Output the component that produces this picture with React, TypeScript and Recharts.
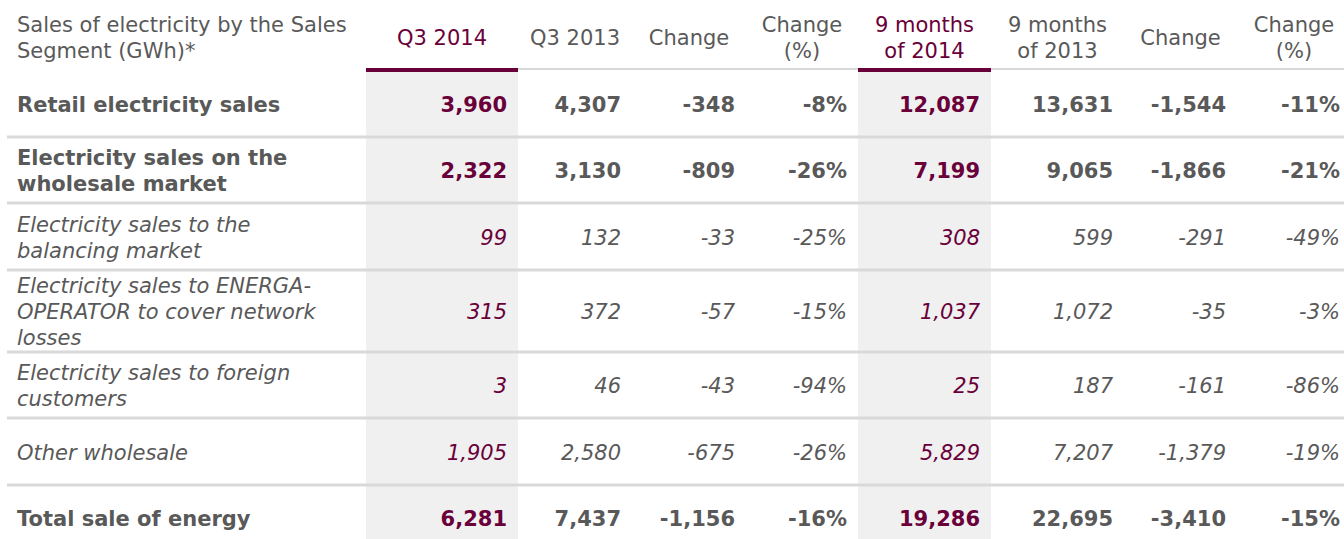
import { Surface, Layer, Rectangle, Text } from 'recharts';

// table content
const titleLines = ['Sales of electricity by the Sales', 'Segment (GWh)*'];
const columnHeaders = ['Q3 2014', 'Q3 2013', 'Change', 'Change\n(%)', '9 months\nof 2014', '9 months\nof 2013', 'Change', 'Change\n(%)'];
const highlighted = [true, false, false, false, true, false, false, false];
const percentCols = [false, false, false, true, false, false, false, true];

const rowLabels = [
  'Retail electricity sales',
  'Electricity sales on the\nwholesale market',
  'Electricity sales to the\nbalancing market',
  'Electricity sales to ENERGA-\nOPERATOR to cover network\nlosses',
  'Electricity sales to foreign\ncustomers',
  'Other wholesale',
  'Total sale of energy',
];
const rowBold = [true, true, false, false, false, false, true];

const q3_2014 = [3960, 2322, 99, 315, 3, 1905, 6281];
const q3_2013 = [4307, 3130, 132, 372, 46, 2580, 7437];
const changeQ3 = [-348, -809, -33, -57, -43, -675, -1156];
const changeQ3Pct = [-8, -26, -25, -15, -94, -26, -16];
const m9_2014 = [12087, 7199, 308, 1037, 25, 5829, 19286];
const m9_2013 = [13631, 9065, 599, 1072, 187, 7207, 22695];
const change9m = [-1544, -1866, -291, -35, -161, -1379, -3410];
const change9mPct = [-11, -21, -49, -3, -86, -19, -15];

const columns = [q3_2014, q3_2013, changeQ3, changeQ3Pct, m9_2014, m9_2013, change9m, change9mPct];

const WIDTH = 1344;
const HEIGHT = 539;
const FONT = '"DejaVu Sans", Verdana, sans-serif';
const GRAY = '#595959';
const MAROON = '#6a0039';
const FILL = '#f0f0f0';
const RULE = '#d9d9d9';
const LINE_H = 26;
const HEADER_H = 70;
const colEdges = [366, 518, 632, 746, 858, 991, 1124, 1237, 1351];

const fmt = (v: number, pct: boolean) => (pct ? `${v}%` : v.toLocaleString('en-US'));

export default function App() {
  // row tops from the number of label lines
  const rows: { top: number; h: number }[] = [];
  let y = HEADER_H;
  rowLabels.forEach((label) => {
    const n = label.split('\n').length;
    const h = Math.max(66.5, n * LINE_H + 4);
    rows.push({ top: y, h });
    y += h;
  });

  return (
    <div style={{ position: 'absolute', left: 0, top: 0, background: '#fff' }}>
      <Surface width={WIDTH} height={HEIGHT}>
        <Layer>
          {highlighted.map((hl, i) =>
            hl ? (
              <Rectangle key={`bg${i}`} x={colEdges[i]} y={HEADER_H + 2} width={colEdges[i + 1] - colEdges[i]} height={HEIGHT} fill={FILL} />
            ) : null
          )}
        </Layer>
        <Layer>
          <Rectangle x={colEdges[1]} y={68} width={WIDTH - colEdges[1]} height={2} fill={RULE} />
          {highlighted.map((hl, i) =>
            hl ? (
              <Rectangle key={`ul${i}`} x={colEdges[i]} y={68} width={colEdges[i + 1] - colEdges[i]} height={4} fill={MAROON} />
            ) : null
          )}
          {rows.slice(1).map((r, i) => (
            <Rectangle key={`rule${i}`} x={7} y={Math.round(r.top) - 1.5} width={WIDTH - 7} height={3} fill={RULE} />
          ))}
        </Layer>
        <Layer>
          {titleLines.map((t, i) => (
            <Text key={`title${i}`} x={17} y={25 + i * LINE_H} verticalAnchor="middle" textAnchor="start"
              fontFamily={FONT} fontSize={21} fill={GRAY}>
              {t}
            </Text>
          ))}
          {columnHeaders.map((h, c) => {
            const lines = h.split('\n');
            const cx = (colEdges[c] + colEdges[c + 1]) / 2;
            return lines.map((ln, k) => (
              <Text key={`h${c}-${k}`} x={cx} y={38 + (k - (lines.length - 1) / 2) * LINE_H} verticalAnchor="middle"
                textAnchor="middle" fontFamily={FONT} fontSize={21} fill={highlighted[c] ? MAROON : GRAY}>
                {ln}
              </Text>
            ));
          })}
          {rowLabels.map((label, r) => {
            const lines = label.split('\n');
            const cy = rows[r].top + rows[r].h / 2 + 1;
            return lines.map((ln, k) => (
              <Text key={`l${r}-${k}`} x={17} y={cy + (k - (lines.length - 1) / 2) * LINE_H} verticalAnchor="middle"
                textAnchor="start" fontFamily={FONT} fontSize={21} fill={GRAY}
                fontWeight={rowBold[r] ? 'bold' : 'normal'} fontStyle={rowBold[r] ? 'normal' : 'italic'}>
                {ln}
              </Text>
            ));
          })}
          {columns.map((vals, c) =>
            vals.map((v, r) => (
              <Text key={`v${c}-${r}`} x={colEdges[c + 1] - 11} y={rows[r].top + rows[r].h / 2 + 1} verticalAnchor="middle"
                textAnchor="end" fontFamily={FONT} fontSize={21} fill={highlighted[c] ? MAROON : GRAY}
                fontWeight={rowBold[r] ? 'bold' : 'normal'} fontStyle={rowBold[r] ? 'normal' : 'italic'}>
                {fmt(v, percentCols[c])}
              </Text>
            ))
          )}
        </Layer>
      </Surface>
    </div>
  );
}
